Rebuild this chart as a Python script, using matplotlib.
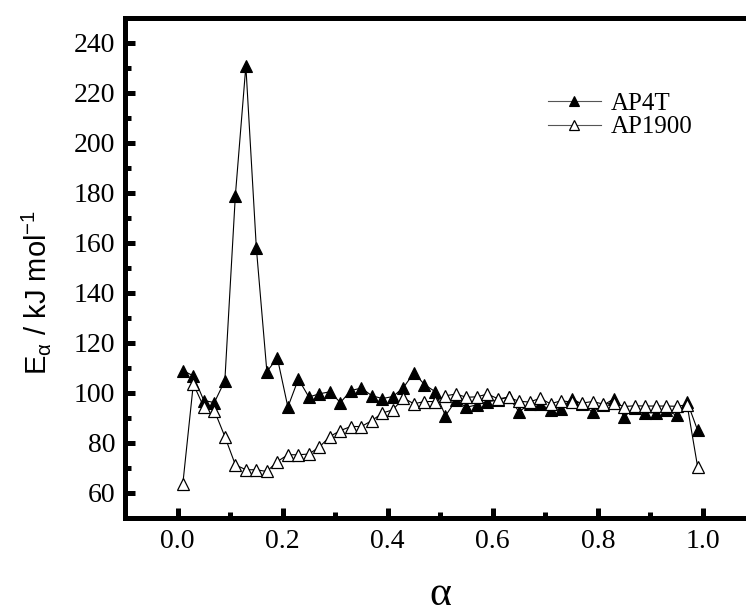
import matplotlib
matplotlib.use("Agg")
import matplotlib.pyplot as plt

# conversion degree alpha (0.01 .. 0.99, step 0.02)
alpha = [0.01, 0.03, 0.05, 0.07, 0.09, 0.11, 0.13, 0.15, 0.17, 0.19,
         0.21, 0.23, 0.25, 0.27, 0.29, 0.31, 0.33, 0.35, 0.37, 0.39,
         0.41, 0.43, 0.45, 0.47, 0.49, 0.51, 0.53, 0.55, 0.57, 0.59,
         0.61, 0.63, 0.65, 0.67, 0.69, 0.71, 0.73, 0.75, 0.77, 0.79,
         0.81, 0.83, 0.85, 0.87, 0.89, 0.91, 0.93, 0.95, 0.97, 0.99]

# activation energy, kJ/mol
ap4t = [108.9, 106.8, 96.9, 96.1, 104.8, 178.9, 230.8, 157.9, 108.5, 113.9,
        94.3, 105.5, 98.3, 99.6, 100.4, 96.1, 100.9, 101.9, 98.8, 97.7,
        98.5, 102.1, 108.0, 103.3, 100.5, 90.8, 97.0, 94.2, 95.2, 96.5,
        97.0, 98.4, 92.4, 95.5, 95.5, 93.1, 93.7, 97.7, 95.5, 92.2,
        95.0, 97.5, 90.4, 94.0, 92.0, 92.0, 93.0, 91.0, 96.5, 85.0]

ap1900 = [63.5, 103.5, 94.3, 92.9, 82.5, 71.2, 69.2, 69.2, 68.5, 72.5,
          75.2, 75.2, 75.5, 78.3, 82.5, 84.9, 86.5, 86.5, 88.9, 91.9,
          93.2, 97.9, 95.6, 96.5, 96.5, 98.8, 99.5, 98.2, 98.4, 99.5,
          97.6, 98.2, 96.6, 96.3, 97.8, 95.6, 96.8, 96.3, 95.9, 96.5,
          95.5, 95.8, 94.5, 94.8, 94.7, 94.7, 94.7, 94.6, 95.2, 70.4]

xticks = [0.0, 0.2, 0.4, 0.6, 0.8, 1.0]
yticks = [60, 80, 100, 120, 140, 160, 180, 200, 220, 240]

plt.rcParams['font.family'] = ['Liberation Serif', 'DejaVu Serif']

fig = plt.figure(figsize=(7.46, 6.14), dpi=100)
ax = fig.add_axes([0.1676, 0.1568, 0.845, 0.8139])

ax.plot(alpha, ap4t, '-', color='black', lw=0.8, marker='^', ms=9,
        mfc='black', mec='black', mew=0.8, label='AP4T')
ax.plot(alpha, ap1900, '-', color='black', lw=0.8, marker='^', ms=9,
        mfc='white', mec='black', mew=0.9, label='AP1900')

ax.set_xlim(-0.1, 1.1)
ax.set_ylim(50, 250)
ax.set_xticks(xticks)
ax.set_xticklabels([f"{v:.1f}" for v in xticks])
ax.set_xticks([0.1, 0.3, 0.5, 0.7, 0.9], minor=True)
ax.set_yticks(yticks)
ax.set_yticklabels([str(v) for v in yticks])
ax.set_yticks([70, 90, 110, 130, 150, 170, 190, 210, 230], minor=True)

for side in ['left', 'top', 'bottom']:
    ax.spines[side].set_linewidth(3.6)
ax.spines['right'].set_visible(False)

ax.tick_params(which='major', direction='in', length=7.5, width=3.6,
               labelsize=20, pad=7, top=False, right=False)
ax.tick_params(which='minor', direction='in', length=4.5, width=3.6,
               top=False, right=False)
ax.tick_params(axis='x', which='major', pad=8)

ax.set_ylabel(r'E$_{\mathregular{α}}$ / kJ mol$^{\mathregular{-1}}$',
              fontsize=21, family='Liberation Sans')
ax.yaxis.set_label_coords(-0.115, 0.45)
ax.set_xlabel('α', fontsize=30)
ax.xaxis.set_label_coords(0.5, -0.115)

leg = ax.legend(loc='upper left', bbox_to_anchor=(548 / 746, 1 - 92 / 614),
                bbox_transform=fig.transFigure, frameon=False, fontsize=18,
                handlelength=2.1, handletextpad=0.4, labelspacing=0.05,
                borderpad=0, borderaxespad=0, markerscale=0.8)
for line in leg.get_lines():
    line.set_color('#555555')
    line.set_markeredgecolor('black')

fig.savefig('out.png', dpi=100)
